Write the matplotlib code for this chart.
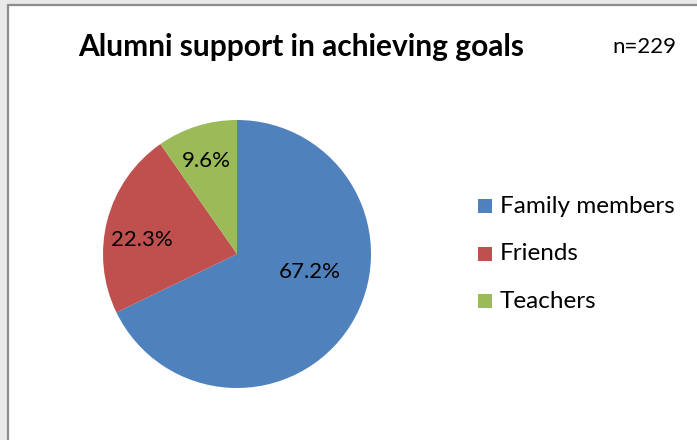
import matplotlib.pyplot as plt
from matplotlib.patches import Rectangle
import numpy as np

plt.rcParams['font.family'] = ['Lato', 'DejaVu Sans']

# support sources and their shares (%)
categories = ["Family members", "Friends", "Teachers"]
shares = [67.2, 22.3, 9.6]
colors = ["#4F81BD", "#C0504D", "#9BBB59"]
n_total = 229

W, H = 697, 440
fig = plt.figure(figsize=(W / 100, H / 100), dpi=100)
fig.patch.set_facecolor("#e9e9e9")

# white chart area with grey border
fig.patches.append(Rectangle((8 / W, -0.05), 1.1, 1 - 5 / H + 0.05,
                             transform=fig.transFigure, facecolor="white",
                             edgecolor="#8c8c8c", linewidth=1.6, zorder=-5))

# pie: centre (237, 254), radius 134 px
r = 134
ax = fig.add_axes([(237 - r) / W, (H - 254 - r) / H, 2 * r / W, 2 * r / H])
ax.set_zorder(2)
ax.patch.set_visible(False)
wedges, _ = ax.pie(shares, colors=colors, startangle=90, counterclock=False,
                   radius=1.0, wedgeprops=dict(linewidth=0))
ax.set_xlim(-1, 1)
ax.set_ylim(-1, 1)
ax.set_aspect("auto")
ax.axis("off")

# value labels, placed by angle / distance from centre
label_place = [(-13.8, 0.56), (171.7, 0.72), (108.4, 0.73)]
for val, (ang, d) in zip(shares, label_place):
    a = np.deg2rad(ang)
    ax.text(d * np.cos(a), d * np.sin(a), f"{val:.1f}%", ha="center",
            va="center", fontsize=16, color="black")

fig.text(301 / W, 1 - 47 / H, "Alumni support in achieving goals",
         ha="center", va="center", fontsize=21.5, fontweight="bold")
fig.text(644 / W, 1 - 47 / H, f"n={n_total}", ha="center", va="center",
         fontsize=16)

# legend
for i, (cat, c) in enumerate(zip(categories, colors)):
    y = 1 - (206 + 47.5 * i) / H
    fig.patches.append(Rectangle((478 / W, y - 7 / H), 14 / W, 14 / H,
                                 transform=fig.transFigure, facecolor=c,
                                 edgecolor="none", zorder=3))
    fig.text(500 / W, y, cat, ha="left", va="center", fontsize=17.5)

fig.savefig("out.png", dpi=100, facecolor=fig.get_facecolor())
